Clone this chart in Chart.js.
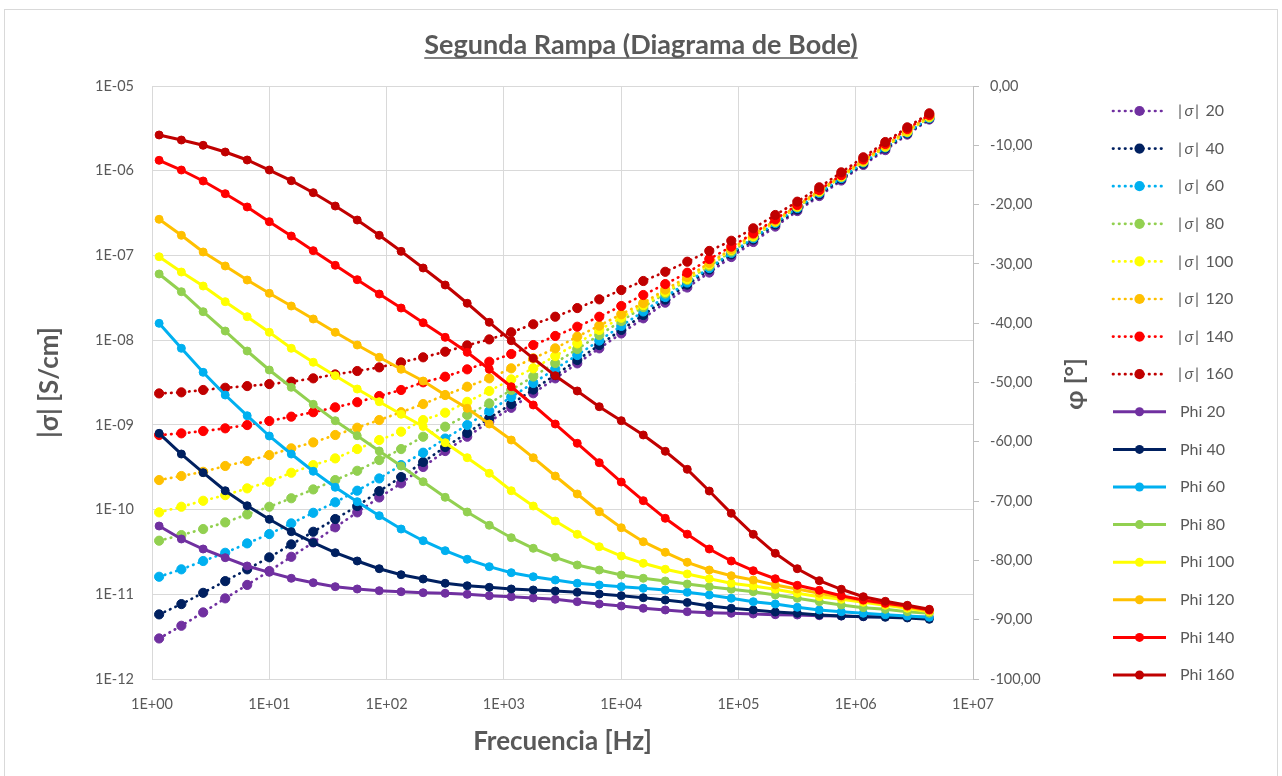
<!DOCTYPE html>
<html lang="es">
<head>
<meta charset="utf-8">
<title>Segunda Rampa (Diagrama de Bode)</title>
<script src="https://cdn.jsdelivr.net/npm/chart.js@4.4.1/dist/chart.umd.min.js"></script>
<style>
    html, body { margin: 0; padding: 0; background: #fff; overflow: hidden; }
    #wrap { position: relative; width: 1282px; height: 776px; }
</style>
</head>
<body>
<div id="wrap"><canvas id="bode"></canvas></div>
<script>
(function () {
    'use strict';

    // measurement frequencies [Hz]
    const freqHz = [1.15, 1.78, 2.73, 4.21, 6.48, 10.0, 15.4, 23.7, 36.5, 56.2, 86.6, 133, 205, 316, 487, 751,
        1156, 1781, 2743, 4225, 6508, 10025, 15440, 23780, 36630, 56420, 86900, 133850, 206200, 317600,
        489200, 753500, 1160600, 1787700, 2753500, 4241300];

    // |sigma| [S/cm], one list per temperature
    const sigma20 = [3.01e-12, 4.25e-12, 6.11e-12, 8.95e-12, 1.29e-11, 1.88e-11, 2.77e-11, 4.10e-11, 6.17e-11, 9.27e-11,
        1.39e-10, 2.04e-10, 3.18e-10, 4.91e-10, 7.24e-10, 1.09e-9, 1.59e-9, 2.36e-9, 3.54e-9, 5.32e-9, 8.00e-9,
        1.20e-8, 1.81e-8, 2.77e-8, 4.18e-8, 6.28e-8, 9.57e-8, 1.44e-7, 2.19e-7, 3.34e-7, 5.02e-7, 7.66e-7,
        1.17e-6, 1.75e-6, 2.67e-6, 4.02e-6];
    const sigma40 = [5.79e-12, 7.66e-12, 1.04e-11, 1.43e-11, 1.97e-11, 2.73e-11, 3.88e-11, 5.47e-11, 7.73e-11, 1.10e-10,
        1.65e-10, 2.42e-10, 3.64e-10, 5.47e-10, 8.00e-10, 1.20e-9, 1.76e-9, 2.61e-9, 3.87e-9, 5.82e-9, 8.75e-9,
        1.32e-8, 1.98e-8, 3.01e-8, 4.53e-8, 6.82e-8, 1.03e-7, 1.54e-7, 2.32e-7, 3.48e-7, 5.24e-7, 7.98e-7,
        1.21e-6, 1.83e-6, 2.75e-6, 4.13e-6];
    const sigma60 = [1.61e-11, 1.97e-11, 2.47e-11, 3.09e-11, 3.99e-11, 5.14e-11, 6.87e-11, 9.16e-11, 1.22e-10, 1.67e-10,
        2.33e-10, 3.35e-10, 4.69e-10, 6.89e-10, 9.95e-10, 1.46e-9, 2.13e-9, 3.12e-9, 4.56e-9, 6.67e-9, 9.89e-9,
        1.47e-8, 2.18e-8, 3.23e-8, 4.79e-8, 7.10e-8, 1.07e-7, 1.60e-7, 2.41e-7, 3.63e-7, 5.46e-7, 8.20e-7,
        1.25e-6, 1.88e-6, 2.82e-6, 4.19e-6];
    const sigma80 = [4.29e-11, 5.00e-11, 5.89e-11, 7.06e-11, 8.77e-11, 1.08e-10, 1.36e-10, 1.73e-10, 2.23e-10, 2.87e-10,
        3.84e-10, 5.18e-10, 7.24e-10, 9.51e-10, 1.31e-9, 1.79e-9, 2.58e-9, 3.72e-9, 5.37e-9, 7.85e-9, 1.15e-8,
        1.68e-8, 2.46e-8, 3.55e-8, 5.13e-8, 7.50e-8, 1.11e-7, 1.65e-7, 2.48e-7, 3.72e-7, 5.61e-7, 8.43e-7,
        1.27e-6, 1.91e-6, 2.86e-6, 4.25e-6];
    const sigma100 = [9.27e-11, 1.08e-10, 1.27e-10, 1.48e-10, 1.78e-10, 2.13e-10, 2.72e-10, 3.35e-10, 4.02e-10, 5.18e-10,
        6.62e-10, 8.30e-10, 1.14e-9, 1.39e-9, 1.87e-9, 2.51e-9, 3.44e-9, 4.65e-9, 6.49e-9, 9.16e-9, 1.32e-8,
        1.84e-8, 2.59e-8, 3.70e-8, 5.26e-8, 7.82e-8, 1.16e-7, 1.69e-7, 2.51e-7, 3.78e-7, 5.68e-7, 8.55e-7,
        1.29e-6, 1.93e-6, 2.90e-6, 4.33e-6];
    const sigma120 = [2.23e-10, 2.49e-10, 2.79e-10, 3.27e-10, 3.74e-10, 4.40e-10, 5.28e-10, 6.21e-10, 7.59e-10, 9.25e-10,
        1.14e-9, 1.41e-9, 1.76e-9, 2.25e-9, 2.82e-9, 3.54e-9, 4.65e-9, 6.10e-9, 8.00e-9, 1.10e-8, 1.48e-8,
        2.02e-8, 2.74e-8, 3.95e-8, 5.56e-8, 8.13e-8, 1.19e-7, 1.77e-7, 2.58e-7, 3.88e-7, 5.83e-7, 8.77e-7,
        1.32e-6, 1.99e-6, 2.99e-6, 4.43e-6];
    const sigma140 = [7.58e-10, 7.94e-10, 8.45e-10, 9.10e-10, 9.95e-10, 1.11e-9, 1.25e-9, 1.41e-9, 1.61e-9, 1.85e-9,
        2.19e-9, 2.58e-9, 3.18e-9, 3.70e-9, 4.52e-9, 5.56e-9, 6.86e-9, 8.75e-9, 1.12e-8, 1.44e-8, 1.89e-8,
        2.53e-8, 3.41e-8, 4.59e-8, 6.25e-8, 9.06e-8, 1.27e-7, 1.82e-7, 2.67e-7, 3.94e-7, 5.92e-7, 8.89e-7,
        1.36e-6, 2.07e-6, 3.11e-6, 4.55e-6];
    const sigma160 = [2.35e-9, 2.42e-9, 2.58e-9, 2.74e-9, 2.87e-9, 3.03e-9, 3.23e-9, 3.54e-9, 3.94e-9, 4.32e-9,
        4.77e-9, 5.47e-9, 6.27e-9, 7.30e-9, 8.68e-9, 1.02e-8, 1.24e-8, 1.54e-8, 1.89e-8, 2.39e-8, 3.03e-8,
        3.90e-8, 4.99e-8, 6.41e-8, 8.43e-8, 1.13e-7, 1.49e-7, 2.09e-7, 3.00e-7, 4.31e-7, 6.37e-7, 9.57e-7,
        1.44e-6, 2.18e-6, 3.25e-6, 4.76e-6];

    // phase angle [deg], one list per temperature
    const phi20 = [-74.20, -76.39, -78.08, -79.54, -80.94, -82.01, -83.02, -83.76, -84.43, -84.82, -85.11, -85.28,
        -85.45, -85.55, -85.72, -85.95, -86.12, -86.34, -86.56, -86.96, -87.35, -87.69, -88.08, -88.36,
        -88.65, -88.82, -88.92, -89.04, -89.16, -89.21, -89.33, -89.38, -89.49, -89.49, -89.54, -89.60];
    const phi40 = [-58.57, -62.06, -65.21, -68.25, -70.78, -73.07, -75.16, -77.01, -78.70, -80.10, -81.40, -82.41,
        -83.14, -83.86, -84.27, -84.54, -84.82, -84.99, -85.16, -85.38, -85.67, -85.95, -86.29, -86.68,
        -87.10, -87.69, -88.08, -88.36, -88.70, -88.92, -89.21, -89.38, -89.49, -89.60, -89.71, -89.93];
    const phi60 = [-40.02, -44.23, -48.28, -52.11, -55.60, -59.02, -62.06, -64.97, -67.67, -70.10, -72.46, -74.71,
        -76.68, -78.36, -79.81, -81.06, -82.07, -82.75, -83.31, -83.86, -84.15, -84.43, -84.70, -84.99,
        -85.38, -85.83, -86.39, -86.96, -87.35, -87.91, -88.36, -88.65, -88.92, -89.16, -89.38, -89.60];
    const phi80 = [-31.70, -34.69, -38.06, -41.32, -44.69, -47.89, -50.81, -53.68, -56.44, -58.97, -61.55, -64.08,
        -66.73, -69.36, -71.84, -74.08, -76.17, -77.96, -79.48, -80.78, -81.62, -82.46, -83.02, -83.47,
        -83.98, -84.43, -84.87, -85.28, -85.83, -86.39, -86.96, -87.52, -87.97, -88.25, -88.65, -88.92];
    const phi100 = [-28.79, -31.37, -33.73, -36.37, -38.90, -41.53, -44.23, -46.59, -48.85, -51.10, -53.24, -55.36,
        -57.42, -60.15, -62.68, -65.31, -68.25, -70.83, -73.36, -75.60, -77.69, -79.26, -80.49, -81.50,
        -82.29, -83.09, -83.86, -84.32, -84.87, -85.55, -86.12, -86.56, -87.07, -87.57, -88.08, -88.65];
    const phi120 = [-22.48, -25.18, -27.99, -30.35, -32.72, -34.96, -37.10, -39.29, -41.53, -43.68, -45.75, -47.77,
        -49.75, -52.11, -54.35, -57.00, -59.70, -62.68, -65.77, -68.80, -71.79, -74.49, -76.85, -78.63,
        -80.32, -81.62, -82.58, -83.31, -84.15, -84.82, -85.55, -86.22, -86.80, -87.35, -87.86, -88.53];
    const phi140 = [-12.53, -14.17, -16.02, -18.16, -20.40, -22.88, -25.30, -27.77, -30.24, -32.66, -35.08, -37.44,
        -39.92, -42.38, -44.91, -47.77, -50.71, -53.79, -57.00, -60.25, -63.52, -66.78, -69.93, -72.90,
        -75.58, -78.08, -80.10, -81.74, -83.09, -84.20, -85.04, -85.95, -86.68, -87.23, -87.69, -88.36];
    const phi160 = [-8.26, -9.11, -10.00, -11.13, -12.48, -14.17, -15.97, -17.99, -20.24, -22.60, -25.18, -27.88,
        -30.69, -33.56, -36.64, -39.85, -42.95, -45.92, -48.85, -51.43, -54.08, -56.44, -58.85, -61.60,
        -64.64, -68.30, -72.06, -75.60, -78.80, -81.40, -83.42, -84.87, -86.12, -86.90, -87.57, -88.25];

    const temps = [20, 40, 60, 80, 100, 120, 140, 160];

    // tick labels
    const freqTicks = [1e0, 1e1, 1e2, 1e3, 1e4, 1e5, 1e6, 1e7];
    const sigmaTicks = [1e-12, 1e-11, 1e-10, 1e-9, 1e-8, 1e-7, 1e-6, 1e-5];

    const colors = ['#7030A0', '#002060', '#00B0F0', '#92D050', '#FFFF00', '#FFC000', '#FF0000', '#C00000'];
    const sigmaSeries = [sigma20, sigma40, sigma60, sigma80, sigma100, sigma120, sigma140, sigma160];
    const phiSeries = [phi20, phi40, phi60, phi80, phi100, phi120, phi140, phi160];

    const FONT = 'Lato, "Noto Sans", sans-serif';
    const GREY = '#595959';
    const GRID = '#d9d9d9';

    Chart.defaults.font.family = FONT;
    Chart.defaults.color = GREY;

    // 1E+03 / 1E-09 style labels
    const expLabel = function (v) {
        const e = Math.round(Math.log10(v));
        return '1E' + (e < 0 ? '-' : '+') + String(Math.abs(e)).padStart(2, '0');
    };

    const toPoints = function (vals) {
        return vals.map(function (v, i) { return { x: freqHz[i], y: v }; });
    };

    const datasets = [];
    temps.forEach(function (t, i) {
        datasets.push({
            label: '|σ| ' + t,
            kind: 'sigma',
            data: toPoints(sigmaSeries[i]),
            yAxisID: 'y',
            borderColor: colors[i],
            backgroundColor: colors[i],
            borderWidth: 2.7,
            borderDash: [0.5, 5.5],
            borderCapStyle: 'round',
            pointRadius: 4.6,
            pointBorderWidth: 1,
            pointBackgroundColor: colors[i],
            pointBorderColor: colors[i]
        });
    });
    temps.forEach(function (t, i) {
        datasets.push({
            label: 'Phi ' + t,
            kind: 'phi',
            data: toPoints(phiSeries[i]),
            yAxisID: 'y1',
            borderColor: colors[i],
            backgroundColor: colors[i],
            borderWidth: 3,
            pointRadius: 4,
            pointBorderWidth: 1,
            pointBackgroundColor: colors[i],
            pointBorderColor: colors[i]
        });
    });
    // later series painted on top, like the spreadsheet
    datasets.forEach(function (ds, i) { ds.order = datasets.length - i; });

    // frame, title underline, right axis title and the side legend
    const decor = {
        id: 'decor',
        beforeDraw: function (chart) {
            const ctx = chart.ctx;
            ctx.save();
            ctx.fillStyle = '#fff';
            ctx.fillRect(0, 0, chart.width, chart.height);
            ctx.strokeStyle = GRID;
            ctx.lineWidth = 1;
            ctx.strokeRect(4.5, 9.5, 1273, 775);
            ctx.restore();
        },
        afterDraw: function (chart) {
            const ctx = chart.ctx;
            ctx.save();

            // underline under the chart title
            const tOpts = chart.options.plugins.title;
            ctx.font = 'bold ' + tOpts.font.size + 'px ' + FONT;
            const tw = ctx.measureText(tOpts.text).width;
            const tx = chart.width / 2;
            ctx.strokeStyle = GREY;
            ctx.lineWidth = 1.6;
            ctx.beginPath();
            ctx.moveTo(tx - tw / 2, 58);
            ctx.lineTo(tx + tw / 2, 58);
            ctx.stroke();

            // secondary axis title
            ctx.translate(1075, 384);
            ctx.rotate(-Math.PI / 2);
            ctx.fillStyle = GREY;
            ctx.font = 'bold 25px ' + FONT;
            ctx.textAlign = 'center';
            ctx.textBaseline = 'middle';
            ctx.fillText('φ [°]', 0, 0);
            ctx.setTransform(1, 0, 0, 1, 0, 0);

            // legend
            const top = 111, step = 37.6;
            ctx.textAlign = 'left';
            ctx.textBaseline = 'middle';
            chart.data.datasets.forEach(function (ds, i) {
                const y = top + i * step;
                ctx.strokeStyle = ds.borderColor;
                ctx.lineWidth = ds.borderWidth;
                ctx.lineCap = ds.borderCapStyle || 'butt';
                ctx.setLineDash(ds.borderDash || []);
                ctx.beginPath();
                ctx.moveTo(1113, y);
                ctx.lineTo(1166, y);
                ctx.stroke();
                ctx.setLineDash([]);
                ctx.fillStyle = ds.pointBackgroundColor;
                ctx.beginPath();
                ctx.arc(1139.5, y, ds.pointRadius + 0.5, 0, Math.PI * 2);
                ctx.fill();

                ctx.fillStyle = GREY;
                if (ds.kind === 'sigma') {
                    let x = 1178;
                    const parts = [['|', ''], ['σ', 'italic '], ['|', ''], [' ' + temps[i], '']];
                    parts.forEach(function (p) {
                        ctx.font = p[1] + '16px ' + FONT;
                        ctx.fillText(p[0], x, y);
                        x += ctx.measureText(p[0]).width + (p[0] === '|' ? 2.5 : 1.5);
                    });
                } else {
                    ctx.font = '16px ' + FONT;
                    ctx.fillText(ds.label, 1180, y);
                }
            });
            ctx.restore();
        }
    };

    const ctx = document.getElementById('bode').getContext('2d');
    new Chart(ctx, {
        type: 'line',
        data: { datasets: datasets },
        options: {
            responsive: true,
            maintainAspectRatio: false,
            animation: false,
            events: [],
            layout: { padding: 0 },
            elements: { line: { tension: 0 } },
            plugins: {
                legend: { display: false },
                tooltip: { enabled: false },
                title: {
                    display: true,
                    text: 'Segunda Rampa (Diagrama de Bode)',
                    color: GREY,
                    font: { size: 27, weight: 'bold' },
                    padding: { top: 28.8, bottom: 24.8 }
                }
            },
            scales: {
                x: {
                    type: 'logarithmic',
                    position: 'bottom',
                    min: 1,
                    max: 1e7,
                    afterBuildTicks: function (scale) {
                        scale.ticks = freqTicks.map(function (v) { return { value: v }; });
                    },
                    afterFit: function (scale) { scale.height = 97; },
                    ticks: {
                        autoSkip: false,
                        maxRotation: 0,
                        padding: 17,
                        font: { size: 14.5 },
                        color: GREY,
                        callback: function (v) { return expLabel(v); }
                    },
                    grid: { color: GRID, drawTicks: false },
                    border: { color: GRID },
                    title: {
                        display: true,
                        text: 'Frecuencia [Hz]',
                        color: GREY,
                        font: { size: 26, weight: 'bold' },
                        padding: { top: 0, bottom: 18.5 }
                    }
                },
                y: {
                    type: 'logarithmic',
                    position: 'left',
                    min: 1e-12,
                    max: 1e-5,
                    afterBuildTicks: function (scale) {
                        scale.ticks = sigmaTicks.map(function (v) { return { value: v }; });
                    },
                    afterFit: function (scale) { scale.width = 152; },
                    ticks: {
                        autoSkip: false,
                        padding: 18,
                        font: { size: 14.5 },
                        color: GREY,
                        callback: function (v) { return expLabel(v); }
                    },
                    grid: { color: GRID, drawTicks: false },
                    border: { color: GRID },
                    title: {
                        display: true,
                        text: '|σ| [S/cm]',
                        color: GREY,
                        font: { size: 26, weight: 'bold' },
                        padding: { top: 34, bottom: 0 }
                    }
                },
                y1: {
                    type: 'linear',
                    position: 'right',
                    min: -100,
                    max: 0,
                    afterFit: function (scale) { scale.width = 309; },
                    ticks: {
                        stepSize: 10,
                        padding: 11,
                        font: { size: 14.5 },
                        color: GREY,
                        callback: function (v) { return v.toFixed(2).replace('.', ','); }
                    },
                    grid: { drawOnChartArea: false, drawTicks: true, tickLength: 6, color: '#bfbfbf' },
                    border: { color: '#bfbfbf' }
                }
            }
        },
        plugins: [decor]
    });
})();
</script>
</body>
</html>
